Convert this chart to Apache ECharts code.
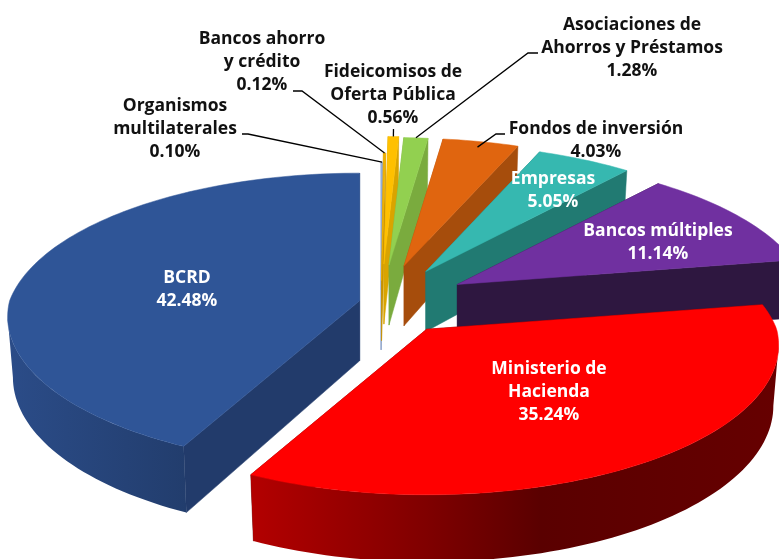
<!DOCTYPE html>
<html><head><meta charset="utf-8">
<style>html,body{margin:0;padding:0;background:#fff}#c{width:779px;height:559px}</style>
<script src="https://cdn.jsdelivr.net/npm/echarts@6/dist/echarts.min.js"></script>
</head><body><div id="c"></div>
<script>
// ---- data ----
const names = ['Organismos\nmultilaterales','Bancos ahorro\ny crédito','Fideicomisos de\nOferta Pública','Asociaciones de\nAhorros y Préstamos','Fondos de inversión','Empresas','Bancos múltiples','Ministerio de\nHacienda','BCRD'];
const values = [0.10,0.12,0.56,1.28,4.03,5.05,11.14,35.24,42.48];
// ---- style: slice explosion (px), colours ----
const explode = [31,53,92,90,91,87,88,77,22];
const topColors = ['#8eaadb','#f0b000','#ffc000','#92d050','#e0650f','#36b8b0','#7030a0','#ff0000','#2f5597'];
const wallColors = ['#7f97c2','#c89200','#d9a400','#7aab3e','#a64d0c','#217a72','#2e1740','#660000','#223b6b'];
const outerStops = {
  7:[[0,'#b30000'],[0.33,'#800000'],[0.55,'#5a0000'],[1,'#660000']],
  8:[[0,'#2b4c88'],[1,'#223d6d']]
};
// ---- style: label layout ----
const labelPos = [[175,106.5],[262,39.5],[393,72.5],[632,25.5],[596,129.5],[553,179.5],[658,231.5],[549,369.5],[187,278.5]];
const labelFill = ['#111','#111','#111','#111','#111','#fff','#fff','#fff','#fff'];
const leaderElbow = [[[242,134],[248,134]],[[293,91],[302,91]],[[393.5,129]],[[538,53],[528,53]],[[505,134],[496,134]],null,null,null,null];
const leaderInset = [0,0,0,0,0.05,0,0,0,0];
const LH = 23, FONT = 'bold 17.5px "Open Sans", sans-serif';
// ---- projection ----
const C = [381,303], R = 350, KR = 148, H = 60, DFRONT = 3300, DBACK = 2200, BOTTOM_X = 0.985;
const total = values.reduce((a,b)=>a+b,0);
const startAngles = []; { let c=0; values.forEach(v=>{startAngles.push(c/total*360); c+=v;}); }
const rad = d=>d*Math.PI/180;
function apex(i){
  const m = rad(startAngles[i]+values[i]/total*180);
  return [C[0]+explode[i]*Math.sin(m), C[1]-explode[i]*Math.cos(m)*KR/R];
}
function pt(a,deg,f,down){
  const u=Math.sin(rad(deg))*f, n=-Math.cos(rad(deg))*f;
  const D=n>=0?DFRONT:DBACK, s=D/(D-n*R);
  return [a[0]+R*u*s*(down?BOTTOM_X:1), a[1]+KR*n*s+(down?H*s:0)];
}
// silhouette angles: where the projected rim is widest to the right and to the left
let rightAngle=0,leftAngle=0;
for(let d=0,best=-1e9,worst=1e9;d<360;d+=0.5){
  const x=pt([0,0],d,1,false)[0];
  if(x>best){best=x;rightAngle=d;}
  if(x<worst){worst=x;leftAngle=d;}
}
function arc(a,s,e,down){
  const pts=[]; const steps=Math.max(2,Math.ceil((e-s)/1.5));
  for(let j=0;j<=steps;j++) pts.push(pt(a,s+(e-s)*j/steps,1,down));
  return pts;
}
function renderSlice(params,api){
  const i=params.dataIndex, v=api.value(0);
  const s=startAngles[i], e=s+v/total*360, a=apex(i);
  const a2=[a[0],a[1]+H];
  const wall={fill:wallColors[i],stroke:wallColors[i],lineWidth:0.5};
  const children=[
    {type:'polygon',shape:{points:[a,pt(a,s,1,false),pt(a,s,1,true),a2]},style:wall},
    {type:'polygon',shape:{points:[a,pt(a,e,1,false),pt(a,e,1,true),a2]},style:wall}
  ];
  const vs=Math.max(s,rightAngle), ve=Math.min(e,leftAngle);
  if(vs<ve){
    const outerFill=outerStops[i]?{type:'linear',x:0,y:0,x2:1,y2:0,colorStops:outerStops[i].map(p=>({offset:p[0],color:p[1]}))}:wallColors[i];
    const pts=arc(a,vs,ve,false).concat(arc(a,vs,ve,true).reverse());
    children.push({type:'polygon',shape:{points:pts},style:{fill:outerFill}});
  }
  children.push({type:'polygon',shape:{points:[a].concat(arc(a,s,e,false))},style:{fill:topColors[i],stroke:topColors[i],lineWidth:0.5}});
  return {type:'group',children};
}
function renderLabel(params,api){
  const i=params.dataIndex, v=api.value(0);
  const lines=names[i].split('\n').concat([v.toFixed(2)+'%']);
  const children=lines.map((t,j)=>({type:'text',style:{text:t,x:labelPos[i][0],y:labelPos[i][1]+j*LH,
     textAlign:'center',textVerticalAlign:'middle',font:FONT,fill:labelFill[i]}}));
  if(leaderElbow[i]){
    const m=startAngles[i]+v/total*180;
    const end=pt(apex(i),m,1-leaderInset[i],false);
    children.push({type:'polyline',shape:{points:leaderElbow[i].concat([end])},style:{fill:'none',stroke:'#000',lineWidth:1.3}});
  }
  return {type:'group',children};
}
const chart=echarts.init(document.getElementById('c'),null,{renderer:'canvas'});
chart.setOption({
  animation:false,backgroundColor:'#fff',
  series:[
    {type:'custom',coordinateSystem:'none',silent:true,z:2,data:values.map(v=>[v]),renderItem:renderSlice},
    {type:'custom',coordinateSystem:'none',silent:true,z:3,data:values.map(v=>[v]),renderItem:renderLabel}
  ]
});
</script></body></html>
